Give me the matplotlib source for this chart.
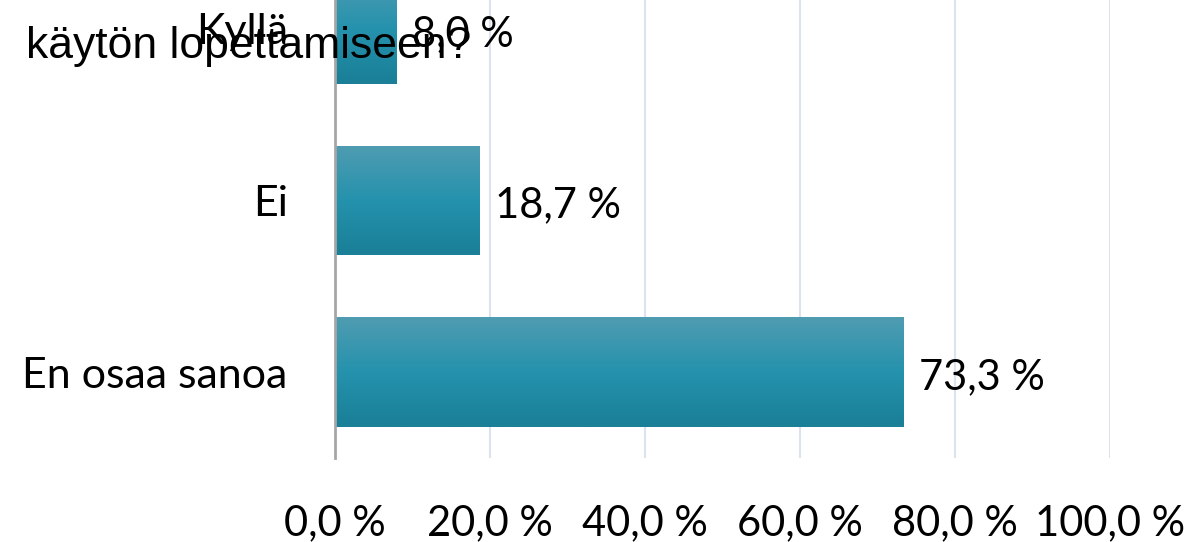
import numpy as np
import matplotlib
matplotlib.use("Agg")
import matplotlib.pyplot as plt
from matplotlib.colors import LinearSegmentedColormap

categories = ["Kyllä", "Ei", "En osaa sanoa"]
values = [8.0, 18.7, 73.3]
x_ticks = [0, 20, 40, 60, 80, 100]
x_tick_labels = ["0,0 %", "20,0 %", "40,0 %", "60,0 %", "80,0 %", "100,0 %"]
title_tail = "käytön lopettamiseen?"

plt.rcParams["font.family"] = ["Lato", "DejaVu Sans"]

fig = plt.figure(figsize=(11.95, 5.42), dpi=100)
ax = fig.add_axes([0.2803, 0.155, 0.6485, 0.95])

y = np.arange(len(categories))
bar_h = 0.64
bars = ax.barh(y, values, height=bar_h, color="#2592ab", zorder=3)

# vertical gradient on each bar, light at the top, darker at the bottom
cmap = LinearSegmentedColormap.from_list("bar", ["#4f9cb1", "#2592ad", "#1a7f97"])
grad = np.linspace(0, 1, 100).reshape(-1, 1)
for rect, yi, v in zip(bars, y, values):
    im = ax.imshow(grad, cmap=cmap, aspect="auto", origin="upper",
                   extent=[0, v, yi + bar_h / 2, yi - bar_h / 2], zorder=4)
    im.set_clip_path(rect)
    label = ("%.1f %%" % v).replace(".", ",")
    ax.text(v + 2.0, yi + 0.03, label, va="center", ha="left",
            fontsize=30, color="black")

ax.set_xlim(0, 100)
ax.set_ylim(len(categories) - 0.5, -0.5)

ax.set_xticks(x_ticks)
ax.set_xticklabels(x_tick_labels, fontsize=30)
ax.set_yticks(y)
ax.set_yticklabels(categories, fontsize=31)
ax.tick_params(axis="both", length=0)
ax.tick_params(axis="x", pad=33)
ax.tick_params(axis="y", pad=34)

ax.grid(axis="x", color="#dae3ee", linewidth=1.5, zorder=0)
ax.set_axisbelow(True)
for side in ["top", "right", "bottom"]:
    ax.spines[side].set_visible(False)
ax.spines["left"].set_color("#a6a6a6")
ax.spines["left"].set_linewidth(2)
ax.spines["left"].set_zorder(5)

# leftover line of the slide title that overlaps the chart
fig.text(26 / 1195, 1 - 58 / 542, title_tail, fontsize=32,
         family=["Liberation Sans", "DejaVu Sans"],
         va="baseline", ha="left", color="black", zorder=10)

fig.savefig("out.png", dpi=100)
